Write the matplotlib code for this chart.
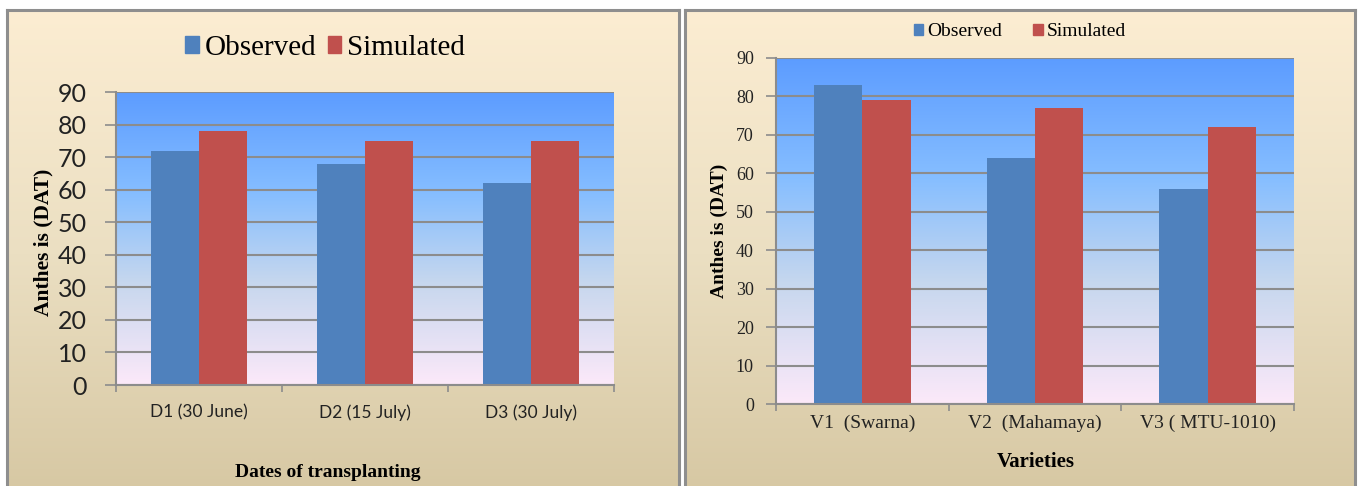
import matplotlib
matplotlib.use("Agg")
import matplotlib.pyplot as plt
import numpy as np
from matplotlib.colors import LinearSegmentedColormap
from matplotlib.patches import Patch

# data
dates = ["D1 (30 June)", "D2 (15 July)", "D3 (30 July)"]
dates_observed = [72, 68, 62]
dates_simulated = [78, 75, 75]

varieties = ["V1  (Swarna)", "V2  (Mahamaya)", "V3 ( MTU-1010)"]
varieties_observed = [83, 64, 56]
varieties_simulated = [79, 77, 72]

series_names = ["Observed", "Simulated"]
y_ticks = list(range(0, 100, 10))

W, H = 1359, 486
BLUE = "#4F81BD"
RED = "#C0504D"
GRID = "#8C8C8C"
SERIF = "Liberation Serif"
NARROW = ["Liberation Sans Narrow", "Lato"]

panel_cmap = LinearSegmentedColormap.from_list(
    "panel", ["#D6C7A2", "#EBDFC2", "#FCEDD2"])
plot_cmap = LinearSegmentedColormap.from_list(
    "plot", [(0.0, "#FCE9F9"), (0.35, "#C6D7EE"),
             (0.65, "#86BEFF"), (1.0, "#5C9CFF")])

fig = plt.figure(figsize=(W / 100, H / 100), dpi=100)
fig.patch.set_facecolor("white")


def px_axes(x0, y0, x1, y1, **kw):
    """Axes from pixel box (top-left origin)."""
    return fig.add_axes([x0 / W, (H - y1) / H, (x1 - x0) / W, (y1 - y0) / H], **kw)


def panel(x0, x1):
    bg = px_axes(x0, 10, x1, 500, zorder=-5)
    grad = np.linspace(0, 1, 256).reshape(-1, 1)
    bg.imshow(grad, cmap=panel_cmap, origin="lower", aspect="auto",
              extent=[0, 1, 0, 1])
    bg.set_xticks([])
    bg.set_yticks([])
    for s in bg.spines.values():
        s.set_color("#8E8E8E")
        s.set_linewidth(2.2)


def bar_chart(ax, labels, obs, sim, width, tick_len):
    x = np.arange(len(labels))
    grad = np.linspace(0, 1, 256).reshape(-1, 1)
    ax.imshow(grad, cmap=plot_cmap, origin="lower", aspect="auto",
              extent=[-0.5, len(labels) - 0.5, 0, 90], zorder=0)
    ax.bar(x - width / 2, obs, width, color=BLUE, zorder=1)
    ax.bar(x + width / 2, sim, width, color=RED, zorder=1)
    ax.set_xlim(-0.5, len(labels) - 0.5)
    ax.set_ylim(0, 90)
    ax.set_axisbelow(True)
    ax.set_yticks(y_ticks)
    ax.yaxis.grid(True, color=GRID, linewidth=1.5)
    ax.set_xticks(x)
    ax.set_xticklabels(labels)
    ax.set_xticks(np.arange(len(labels) + 1) - 0.5, minor=True)
    ax.tick_params(axis="x", which="major", length=0)
    ax.tick_params(axis="x", which="minor", length=5, width=1.2, color=GRID)
    ax.tick_params(axis="y", length=tick_len, width=1.2, color=GRID)
    for side in ["top", "right"]:
        ax.spines[side].set_visible(False)
    for side in ["left", "bottom"]:
        ax.spines[side].set_color(GRID)
        ax.spines[side].set_linewidth(1.5)
    ax.set_facecolor("none")


panel(7, 679)
panel(685, 1355)

# left chart: dates of transplanting
ax1 = px_axes(116, 92, 614, 385)
bar_chart(ax1, dates, dates_observed, dates_simulated, 0.29, 8)
ax1.tick_params(axis="y", pad=13, labelsize=18, labelcolor="#222222")
for t in ax1.get_yticklabels():
    t.set_family(NARROW)
ax1.tick_params(axis="x", pad=14, labelsize=12.5, labelcolor="#222222")
for t in ax1.get_xticklabels():
    t.set_family(NARROW)
fig.text(43 / W, 1 - 242 / H, "Anthes is (DAT)", rotation=90, ha="center",
         va="center", family=SERIF, fontweight="bold", fontsize=15.5)
fig.text(328 / W, 1 - 472 / H, "Dates of transplanting", ha="center",
         va="center", family=SERIF, fontweight="bold", fontsize=14)
handles = [Patch(color=BLUE), Patch(color=RED)]
fig.legend(handles, series_names, loc="center",
           bbox_to_anchor=(325 / W, 1 - 48 / H), ncol=2, frameon=False,
           prop={"family": SERIF, "size": 21}, handlelength=0.45,
           handleheight=0.55, handletextpad=0.2, columnspacing=0.4)

# right chart: varieties
ax2 = px_axes(776, 58, 1294, 404)
bar_chart(ax2, varieties, varieties_observed, varieties_simulated, 0.28, 7)
ax2.tick_params(axis="y", pad=9, labelsize=13, labelcolor="#222222")
ax2.tick_params(axis="x", pad=8, labelsize=14, labelcolor="#222222")
for t in ax2.get_yticklabels() + ax2.get_xticklabels():
    t.set_family(SERIF)
fig.text(719 / W, 1 - 231 / H, "Anthes is (DAT)", rotation=90, ha="center",
         va="center", family=SERIF, fontweight="bold", fontsize=14)
fig.text(1036 / W, 1 - 462 / H, "Varieties", ha="center", va="center",
         family=SERIF, fontweight="bold", fontsize=15)
fig.legend(handles, series_names, loc="center",
           bbox_to_anchor=(1020 / W, 1 - 32 / H), ncol=2, frameon=False,
           prop={"family": SERIF, "size": 14}, handlelength=0.5,
           handleheight=0.5, handletextpad=0.2, columnspacing=1.6)

fig.savefig("out.png", dpi=100)
